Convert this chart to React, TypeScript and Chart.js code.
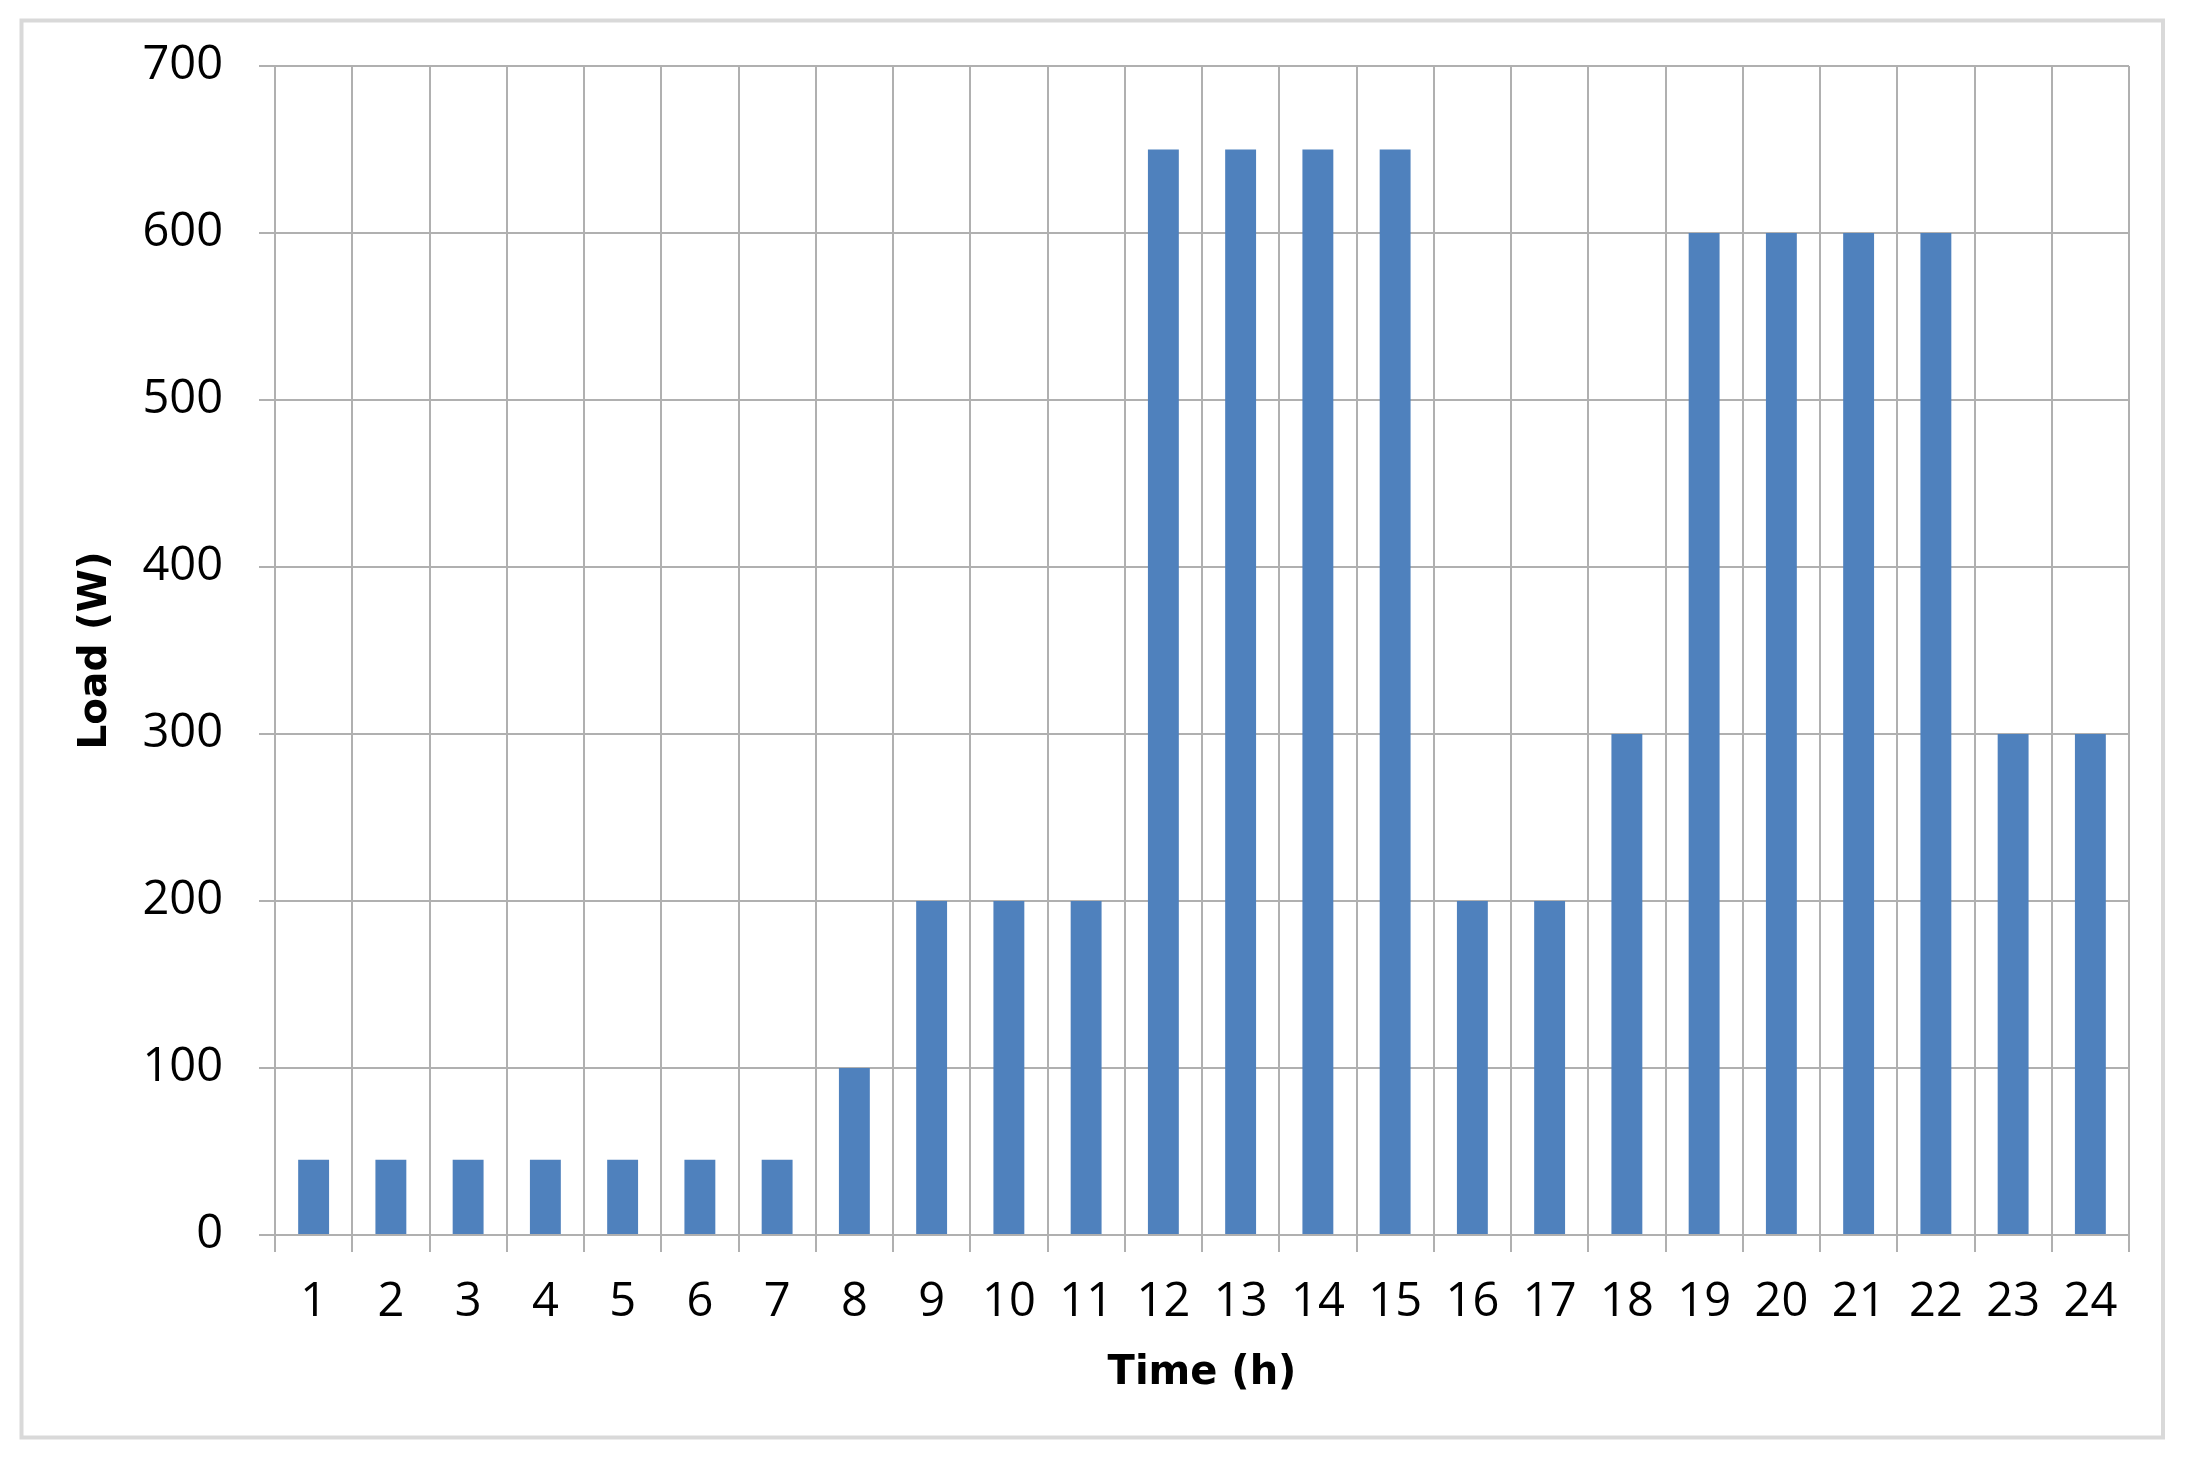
import React, { useEffect, useRef } from "react";
import { Chart, registerables } from "chart.js";

Chart.register(...registerables);

const hours = ["1","2","3","4","5","6","7","8","9","10","11","12","13","14","15","16","17","18","19","20","21","22","23","24"];
const loadW = [45,45,45,45,45,45,45,100,200,200,200,650,650,650,650,200,200,300,600,600,600,600,300,300];
const yTicks = [0,100,200,300,400,500,600,700];

const W = 2187;
const H = 1469;
const GRID = "#b0b0b0";

const borderPlugin = {
  id: "outerBorder",
  afterDraw(chart: any) {
    const ctx = chart.ctx;
    ctx.save();
    ctx.strokeStyle = "#d9d9d9";
    ctx.lineWidth = 4;
    ctx.strokeRect(21.5, 20.5, 2163 - 21.5, 1437.5 - 20.5);
    ctx.restore();
  },
};

export default function App() {
  const ref = useRef<HTMLCanvasElement | null>(null);
  useEffect(() => {
    if (!ref.current) return;
    const chart = new Chart(ref.current, {
      type: "bar",
      data: {
        labels: hours,
        datasets: [
          {
            data: loadW,
            backgroundColor: "#4f81bd",
            categoryPercentage: 1,
            barPercentage: 0.4,
          },
        ],
      },
      plugins: [borderPlugin],
      options: {
        responsive: false,
        animation: false,
        devicePixelRatio: 1,
        layout: { padding: { left: 0, top: 66, right: 58, bottom: 0 } },
        plugins: { legend: { display: false }, tooltip: { enabled: false } },
        scales: {
          x: {
            afterFit: (s: any) => { s.height = H - 1235; },
            grid: { color: GRID, lineWidth: 2, tickLength: 17, offset: true },
            border: { color: GRID, width: 2 },
            ticks: {
              color: "#000",
              font: { family: "Open Sans", size: 47 },
              padding: 22,
              maxRotation: 0,
              autoSkip: false,
            },
            title: {
              display: true,
              text: "Time (h)",
              color: "#000",
              font: { family: "DejaVu Sans", size: 40, weight: "bold" },
              padding: { top: 0, bottom: 71 },
            },
          },
          y: {
            min: 0,
            max: 700,
            afterFit: (s: any) => { s.width = 275; },
            afterBuildTicks: (s: any) => { s.ticks = yTicks.map((v) => ({ value: v })); },
            grid: { color: GRID, lineWidth: 2, tickLength: 16 },
            border: { color: GRID, width: 2 },
            ticks: {
              color: "#000",
              font: { family: "Open Sans", size: 47 },
              padding: 36,
              stepSize: 100,
            },
            title: {
              display: true,
              text: "Load (W)",
              color: "#000",
              font: { family: "DejaVu Sans", size: 39, weight: "bold" },
              padding: { top: 72, bottom: 0 },
            },
          },
        },
      },
    } as any);
    return () => chart.destroy();
  }, []);
  return (
    <div style={{ position: "absolute", left: 0, top: 0, width: W, height: H, background: "#fff" }}>
      <canvas ref={ref} width={W} height={H} style={{ display: "block", width: W, height: H }} />
    </div>
  );
}
